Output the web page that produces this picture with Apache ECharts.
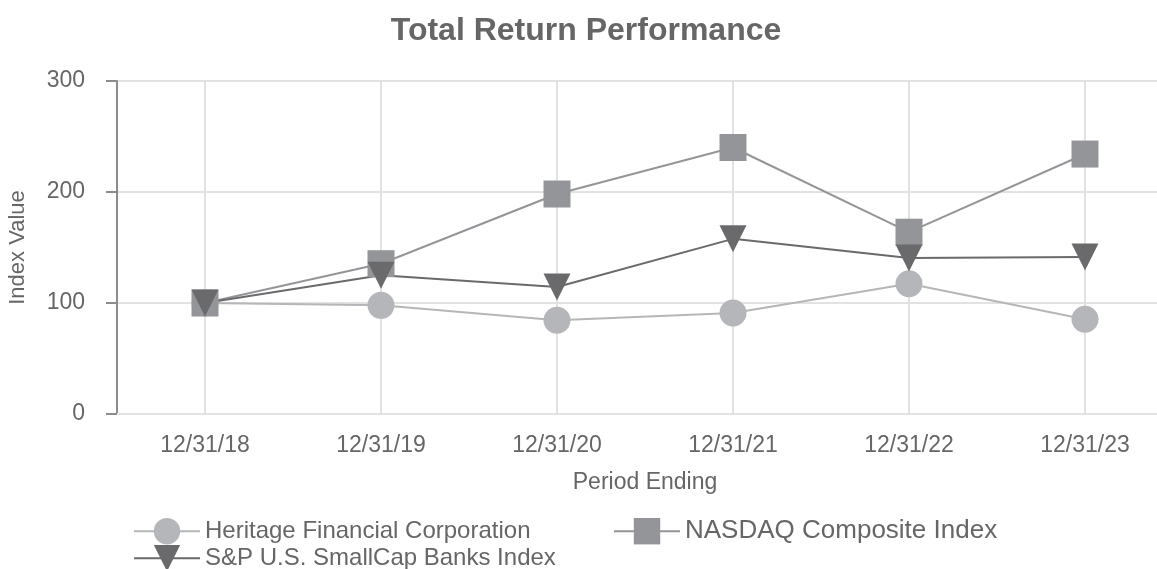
<!DOCTYPE html>
<html>
<head>
<meta charset="utf-8">
<script src="https://cdn.jsdelivr.net/npm/echarts@6/dist/echarts.min.js"></script>
<style>
  html, body { margin: 0; padding: 0; background: #fff; }
  #J-perf { width: 1157px; height: 569px; }
</style>
</head>
<body>
<div id="J-perf"></div>
<script>
const periods = ['12/31/18', '12/31/19', '12/31/20', '12/31/21', '12/31/22', '12/31/23'];
const heritage = [100, 97.9, 84.4, 91.0, 117.4, 85.3];
const nasdaq = [100, 135.4, 198.2, 240.1, 163.8, 234.2];
const smallCapBanks = [100, 124.9, 114.4, 157.8, 140.6, 141.4];
const yTicks = [0, 100, 200, 300];

const FONT = '"Liberation Sans", Arial, sans-serif';
const TEXT = '#666';

const chart = echarts.init(document.getElementById('J-perf'));

const lineSeries = function(name, data, color, symbol, rotate) {
    return {
        name: name,
        type: 'line',
        data: data,
        symbol: symbol,
        symbolSize: 27,
        symbolRotate: rotate,
        itemStyle: { color: color },
        lineStyle: { color: color, width: 2 },
        animation: false
    };
};

// one legend per entry so each can sit where the reference puts it
const legendAt = function(name, left, top, size) {
    return {
        data: [name],
        left: left, top: top,
        itemWidth: 66, itemHeight: 33,
        textStyle: { fontFamily: FONT, fontSize: size, color: TEXT }
    };
};

chart.setOption({
    textStyle: { fontFamily: FONT },
    title: {
        text: 'Total Return Performance',
        left: 581,
        textAlign: 'center',
        top: 10,
        textStyle: { fontFamily: FONT, fontSize: 32, fontWeight: 'bold', color: TEXT }
    },
    legend: [
        legendAt('Heritage Financial Corporation', 128, 513, 24),
        legendAt('NASDAQ Composite Index', 608, 513, 26),
        legendAt('S&P U.S. SmallCap Banks Index', 128, 540, 24)
    ],
    grid: { left: 117, right: -16, top: 81, bottom: 155, outerBoundsMode: 'none' },
    xAxis: {
        type: 'category',
        data: periods,
        boundaryGap: true,
        name: 'Period Ending',
        nameLocation: 'middle',
        nameGap: 57,
        nameTextStyle: { fontFamily: FONT, fontSize: 23, color: TEXT },
        axisLine: { lineStyle: { color: '#e2e2e2', width: 2 } },
        axisTick: { alignWithLabel: true, length: 11, lineStyle: { color: '#8c8c8c', width: 1.5 } },
        axisLabel: { fontFamily: FONT, fontSize: 23, color: TEXT, margin: 20 },
        splitLine: { show: true, alignWithLabel: true, lineStyle: { color: '#e2e2e2', width: 2 } }
    },
    yAxis: {
        type: 'value',
        min: yTicks[0],
        max: yTicks[yTicks.length - 1],
        interval: 100,
        name: 'Index Value',
        nameLocation: 'middle',
        nameGap: 88,
        nameRotate: 90,
        nameTextStyle: { fontFamily: FONT, fontSize: 22, color: TEXT },
        axisLine: { show: true, lineStyle: { color: '#8c8c8c', width: 2 } },
        axisTick: { show: true, length: 11, lineStyle: { color: '#8c8c8c', width: 2 } },
        axisLabel: { fontFamily: FONT, fontSize: 23, color: TEXT, margin: 32 },
        splitLine: { lineStyle: { color: '#e2e2e2', width: 2 } }
    },
    series: [
        lineSeries('Heritage Financial Corporation', heritage, '#b5b6b9', 'circle', 0),
        lineSeries('NASDAQ Composite Index', nasdaq, '#949598', 'rect', 0),
        lineSeries('S&P U.S. SmallCap Banks Index', smallCapBanks, '#6a6a6c', 'triangle', 180)
    ]
});
</script>
</body>
</html>
